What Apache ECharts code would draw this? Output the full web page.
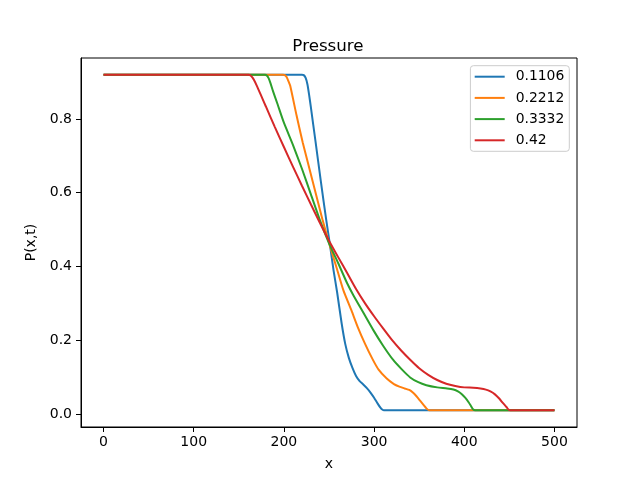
<!DOCTYPE html>
<html>
<head>
<meta charset="utf-8">
<script src="https://cdn.jsdelivr.net/npm/echarts@6/dist/echarts.min.js"></script>
<style>html,body{margin:0;padding:0;background:#fff}#c{width:640px;height:480px}</style>
</head>
<body>
<div id="c"></div>
<script>
var seriesNames = ['0.1106', '0.2212', '0.3332', '0.42'];
var colors = ['#1f77b4', '#ff7f0e', '#2ca02c', '#d62728'];
var xTicks = [0, 100, 200, 300, 400, 500];
var yTicks = [0.0, 0.2, 0.4, 0.6, 0.8];

var blue = [[0,0.92],[220,0.92],[222,0.919],[224,0.912],[226,0.895],[228,0.865],[230,0.83],[235,0.74],[241,0.63],[247,0.525],[251,0.46],[255,0.39],[259,0.33],[264,0.246],[268,0.19],[272,0.152],[276,0.125],[280,0.103],[284,0.089],[288,0.08],[292,0.07],[296,0.058],[300,0.044],[304,0.028],[307,0.017],[309,0.012],[311,0.01],[500,0.01]];
var orange = [[0,0.92],[199,0.92],[201,0.919],[203,0.914],[205,0.903],[207,0.89],[214,0.81],[221,0.735],[232,0.63],[243,0.525],[250.5,0.46],[258,0.40],[266,0.335],[275,0.28],[282,0.235],[290,0.19],[298,0.15],[305,0.12],[314,0.096],[322,0.081],[328,0.074],[334,0.069],[339,0.065],[343,0.058],[347,0.048],[351,0.036],[355,0.024],[358,0.015],[361,0.01],[500,0.01]];
var green = [[0,0.92],[179,0.92],[181,0.918],[183,0.911],[185,0.898],[188,0.875],[193,0.84],[200,0.79],[210,0.73],[220,0.665],[230,0.595],[240,0.525],[250.5,0.46],[260,0.41],[270,0.355],[277,0.322],[288,0.275],[299,0.228],[310,0.185],[321,0.147],[331,0.12],[340,0.099],[349,0.086],[358,0.078],[370,0.072],[381,0.069],[388,0.066],[393,0.061],[397,0.054],[401,0.044],[405,0.031],[408,0.019],[410,0.012],[412,0.01],[500,0.01]];
var red = [[0,0.92],[161,0.92],[163,0.918],[165,0.913],[167,0.905],[170,0.89],[175,0.862],[180,0.834],[190,0.778],[200,0.724],[210,0.671],[220,0.619],[230,0.568],[240,0.518],[250,0.47],[260,0.426],[270,0.383],[280,0.339],[290,0.3],[300,0.265],[310,0.232],[320,0.2],[330,0.172],[340,0.147],[350,0.124],[360,0.106],[370,0.092],[380,0.082],[390,0.076],[400,0.072],[410,0.071],[418,0.069],[424,0.066],[429,0.061],[434,0.053],[439,0.041],[443,0.029],[447,0.018],[449,0.012],[451,0.01],[500,0.01]];
var allData = [blue, orange, green, red];

var font = 'DejaVu Sans';
var chart = echarts.init(document.getElementById('c'), null, {renderer: 'canvas'});
var series = allData.map(function (d, i) {
  return {
    name: seriesNames[i], type: 'line', data: d, showSymbol: false, symbol: 'none',
    smooth: 0.2, color: colors[i],
    lineStyle: {width: 2, color: colors[i]}, animation: false
  };
});
chart.setOption({
  animation: false,
  backgroundColor: '#fff',
  title: {
    text: 'Pressure', left: 323, top: 33, textAlign: 'center',
    textStyle: {fontFamily: font, fontSize: 16.7, fontWeight: 'normal', color: '#000'}
  },
  legend: {
    orient: 'vertical', right: 70.7, top: 65.7,
    data: seriesNames.map(function (n) { return {name: n, icon: 'rect'}; }),
    itemWidth: 30, itemHeight: 2, itemGap: 5.2,
    padding: [3, 5, 3, 4.3],
    borderColor: '#cccccc', borderWidth: 1, borderRadius: 3,
    backgroundColor: 'rgba(255,255,255,0.8)',
    textStyle: {fontFamily: font, fontSize: 13.9, color: '#000', lineHeight: 16, padding: [0, 0, 0, 6]}
  },
  grid: {left: 81, right: 63, top: 58, bottom: 53, show: true, borderColor: '#000', borderWidth: 1, containLabel: false},
  xAxis: {
    type: 'value', min: -25, max: 525,
    name: 'x', nameLocation: 'middle', nameGap: 30,
    nameTextStyle: {fontFamily: font, fontSize: 14, color: '#000'},
    axisLine: {show: true, onZero: false, lineStyle: {color: '#000', width: 1}},
    axisTick: {show: true, customValues: xTicks, length: 5, inside: false, lineStyle: {color: '#000'}},
    axisLabel: {customValues: xTicks, margin: 8, fontFamily: font, fontSize: 14, color: '#000'},
    splitLine: {show: false}
  },
  yAxis: {
    type: 'value', min: -0.0355, max: 0.9655,
    name: 'P(x,t)', nameLocation: 'middle', nameGap: 40, nameRotate: 90,
    nameTextStyle: {fontFamily: font, fontSize: 14, color: '#000'},
    axisLine: {show: true, onZero: false, lineStyle: {color: '#000', width: 1}},
    axisTick: {show: true, customValues: yTicks, length: 5, inside: false, lineStyle: {color: '#000'}},
    axisLabel: {customValues: yTicks, margin: 9, fontFamily: font, fontSize: 14, color: '#000',
      formatter: function (v) { return v.toFixed(1); }},
    splitLine: {show: false}
  },
  series: series
});
</script>
</body>
</html>
